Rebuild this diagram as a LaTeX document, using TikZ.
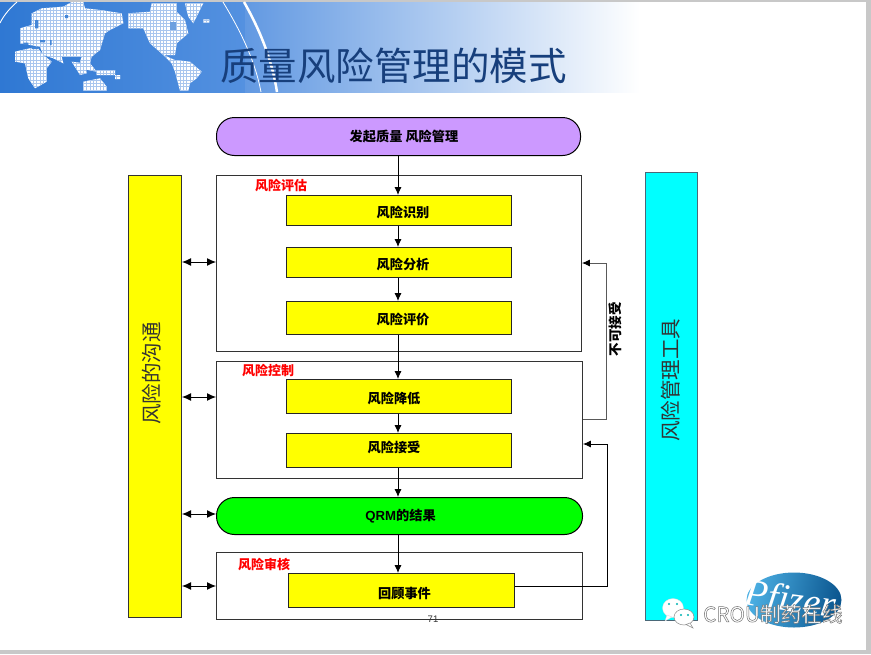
\documentclass[tikz,border=0pt]{standalone}
\usepackage{fontspec}
\setmainfont{Liberation Sans}
\newfontfamily\cjk{Noto Sans CJK SC}
\newfontfamily\logofont{Liberation Serif}
\usetikzlibrary{arrows.meta}
\definecolor{pagegrey}{HTML}{C8C8C8}
\definecolor{bandA}{HTML}{2F78D3}
\definecolor{bandB}{HTML}{5491E0}
\definecolor{bandC}{HTML}{6299E2}
\definecolor{titleblue}{HTML}{173F7C}
\definecolor{startfill}{HTML}{CC99FF}
\definecolor{logoA}{HTML}{4CB0E4}
\definecolor{logoB}{HTML}{0B568F}
\definecolor{pureyellow}{HTML}{FFFF00}
\definecolor{purecyan}{HTML}{00FFFF}
\definecolor{puregreen}{HTML}{00FF00}
\definecolor{gridblue}{HTML}{A9C6EE}
\tikzset{
  every node/.style={font=\cjk},
  framebox/.style={draw=black!80,fill=white,line width=0.9pt,inner sep=0pt,anchor=north west},
  stepbox/.style={draw=black!85,fill=pureyellow,line width=0.9pt,inner sep=0pt,anchor=north west},
  pillbox/.style={draw=black,rounded corners=18pt,line width=1pt,inner sep=0pt,anchor=north west},
  sidebar/.style={draw=black!80,line width=1pt,inner sep=0pt,anchor=north west},
  boldtext/.style={font=\cjk\bfseries\fontsize{13.2}{15}\selectfont,inner sep=0pt},
  redlabel/.style={text=red,font=\cjk\bfseries\fontsize{13}{15}\selectfont,inner sep=0pt},
  sidetext/.style={rotate=90,font=\cjk\fontsize{20.5}{24}\selectfont,inner sep=0pt,text=black!80},
  flow/.style={draw=black,line width=0.9pt,-{Latex[length=8pt,width=7pt]}},
  flowgrey/.style={draw=black!65,line width=0.95pt,-{Latex[length=8pt,width=7pt,color=black]}},
  twoway/.style={draw=black,line width=1pt,{Latex[length=9pt,width=8pt]}-{Latex[length=9pt,width=8pt]}},
}
\begin{document}
\begin{tikzpicture}[x=1pt,y=-1pt]
\useasboundingbox (0,0) rectangle (871,654);
% page
\fill[pagegrey] (0,0) rectangle (871,654);
\fill[white] (0,2) rectangle (866,650);
% banner
\shade[left color=bandA,right color=bandB] (0,2) rectangle (245,92);
\shade[left color=bandC,right color=white] (245,2) rectangle (640,92);
% map
\begin{scope}
\clip (20,28.3)--(31.7,25)--(31.7,13.3)--(41.7,8.3)--(63.3,6.7)--(71.7,2)--(83.3,2)--(85,8.3)--(100,10)--(121.7,13.3)--(123.3,23.3)--(110,30)--(105,33.3)--(100,50)--(91.7,56.7)--(90,63.3)--(96.7,71.7)--(88.3,70)--(78.3,68.3)--(81.7,56.7)--(61.7,56.7)--(63.3,63.3)--(53.3,58.3)--(43.3,55)--(40,46.7)--(20,43.3)--cycle
 (15,51.7)--(36.7,46.7)--(43.3,55)--(51.7,61.7)--(46.7,68.3)--(46.7,81.7)--(35,88.3)--(28.3,78.3)--(25,63.3)--(15,61.7)--cycle
 (83.3,81.7)--(100,78.3)--(106.7,86.7)--(106.7,90.7)--(83.3,90.7)--cycle
 (71.7,61.7)--(85,63.3)--(86.7,73.3)--(80,75)--cycle
 (96.7,70) rectangle (115,75)
 (115,75) rectangle (120,79)
 (128.3,13.3)--(150,11.7)--(151.7,3.3)--(176.7,3.3)--(176.7,11.7)--(185,20)--(188.3,33.3)--(176.7,43.3)--(175,55)--(163.3,55)--(150,43.3)--(143.3,28.3)--(128.3,28.3)--cycle
 (185,3.3)--(203.3,3.3)--(193.3,23.3)--(188.3,16.7)--cycle
 (203.3,19.3) rectangle (209.3,22.7)
 (163.3,55)--(175,60)--(190,61.7)--(201.7,71.7)--(196.7,78.3)--(190,83.3)--(188.3,90.7)--(180,90.7)--(175,71.7)--(171.7,63.3)--cycle;
\fill[white] (0,0) rectangle (215,92);
\draw[gridblue,line width=0.5pt,step=3.33pt] (0,0) grid (215,92);
\end{scope}
\fill[bandA!90!white] (31.7,46.7) rectangle (38.3,49) (23.3,42.7) rectangle (28.3,45) (40,40) rectangle (45,42.3) (50,40) rectangle (51.7,45) (35,20) rectangle (38.3,28.3) (65,15) rectangle (68,18);
\fill[bandA!70!white] (170,22) rectangle (176,30);
\draw[white,line width=2.5pt] (244,2) .. controls (260,30) and (272,60) .. (277,92);
\draw[white,line width=0.8pt] (223,2) .. controls (240,30) and (255,60) .. (261,92);
\draw[white,line width=0.9pt] (17,2) .. controls (10,8) and (4,15) .. (0,23);
\node[text=titleblue,font=\cjk\fontsize{38.5}{44}\selectfont,inner sep=0pt] (title) at (393.5,65.5) {质量风险管理的模式};
% side bars
\node[sidebar,fill=pureyellow,minimum width=53pt,minimum height=442pt] (comm) at (128,175) {};
\node[sidetext] (commtext) at (152,373.5) {风险的沟通};
\node[sidebar,fill=purecyan,draw=black!60!cyan,minimum width=52pt,minimum height=448pt] (tools) at (645,172) {};
\node[sidetext] (toolstext) at (671,380) {风险管理工具};
% frames
\node[framebox,minimum width=365pt,minimum height=176pt] (assess) at (216,175) {};
\node[framebox,minimum width=366pt,minimum height=117pt] (control) at (216,361) {};
\node[framebox,minimum width=366pt,minimum height=67pt] (review) at (216,552) {};
% pills
\node[pillbox,fill=startfill,minimum width=364pt,minimum height=38pt] (start) at (216,117) {};
\node[pillbox,fill=puregreen,minimum width=366pt,minimum height=37pt] (result) at (216,497) {};
% steps
\node[stepbox,minimum width=225pt,minimum height=30pt] (s1) at (286,195) {};
\node[stepbox,minimum width=225pt,minimum height=30pt] (s2) at (286,247) {};
\node[stepbox,minimum width=225pt,minimum height=33pt] (s3) at (286,301) {};
\node[stepbox,minimum width=225pt,minimum height=34pt] (s4) at (286,379) {};
\node[stepbox,minimum width=225pt,minimum height=34pt] (s5) at (286,433) {};
\node[stepbox,minimum width=226pt,minimum height=34pt] (s6) at (288,573) {};
% step texts
\node[boldtext] (t0) at (404,136) {发起质量 风险管理};
\node[boldtext] (t1) at (403,212) {风险识别};
\node[boldtext] (t2) at (403,264) {风险分析};
\node[boldtext] (t3) at (403,319) {风险评价};
\node[boldtext] (t4) at (394,398) {风险降低};
\node[boldtext] (t5) at (394,447) {风险接受};
\node[boldtext] (t6) at (404.5,594) {回顾事件};
\node[boldtext] (t7) at (400.5,516) {{\normalfont\bfseries QRM}的结果};
% red labels
\node[redlabel] (l1) at (281,186) {风险评估};
\node[redlabel] (l2) at (268,371) {风险控制};
\node[redlabel] (l3) at (264,564) {风险审核};
% flow
\coordinate (x1) at (398,0);
\draw[flow] (start.south -| x1) -- (s1.north -| x1);
\draw[flow] (s1.south -| x1) -- (s2.north -| x1);
\draw[flow] (s2.south -| x1) -- (s3.north -| x1);
\draw[flow] (s3.south -| x1) -- (s4.north -| x1);
\draw[flow] (s4.south -| x1) -- (s5.north -| x1);
\draw[flow] (s5.south -| x1) -- (result.north -| x1);
\draw[flow] (result.south -| x1) -- (s6.north -| x1);
% two-way
\foreach \y/\t [count=\i] in {262/assess,397/control,514/result,586/review}{
  \coordinate (ca\i) at (comm.east |- 0,\y);
  \coordinate (cb\i) at (\t.west |- 0,\y);
  \draw[twoway] (ca\i) -- (cb\i);
}
% feedback
\coordinate (fbA) at (606,419);
\coordinate (fbB) at (606,263);
\coordinate (fbC) at (607,586);
\coordinate (fbD) at (607,444);
\draw[flowgrey] (control.east |- fbA) -- (fbA) -- (fbB) -- (assess.east |- fbB);
\draw[flow] (s6.east |- fbC) -- (fbC) -- (fbD) -- (control.east |- fbD);
\node[rotate=90,font=\cjk\bfseries\fontsize{13.5}{15}\selectfont,inner sep=0pt] (reject) at (615,329) {不可接受};
\node[font=\fontsize{9.5}{11}\selectfont,inner sep=1pt,text=black!80] (pagenum) at (433,619) {71};
% logo
\shade[left color=logoA,right color=logoB,shading angle=80] (794,600) ellipse [x radius=47.5,y radius=27.5];
\node[text=white,font=\logofont\itshape\fontsize{38}{44}\selectfont,rotate=-8,inner sep=0pt] (pfizer) at (790,602) {Pfizer};
% watermark
\fill[white,draw=black!15,line width=0.3pt] (673,608) ellipse [x radius=10.5,y radius=9.5];
\fill[white,draw=black!15,line width=0.3pt] (667,615) -- (665,621) -- (672,617) -- cycle;
\fill[white,draw=black!45,line width=0.5pt] (684,617) ellipse [x radius=10,y radius=8];
\fill[white,draw=black!45,line width=0.5pt] (690,623) -- (693,628) -- (686,624.5) -- cycle;
\fill[purecyan!70!black] (669,604) circle (1.2) (677,604) circle (1.2) (681,615) circle (1.1) (688,615) circle (1.1);
\node[anchor=west,text=black!45,font=\cjk\fontsize{20.7}{24}\selectfont,inner sep=0pt] (mark) at (703,614) {\special{pdf:code 2 Tr 0.5 w 0.45 0.45 0.45 RG 1 1 1 rg}CROU制药在线\special{pdf:code 0 Tr}};
\end{tikzpicture}
\end{document}
